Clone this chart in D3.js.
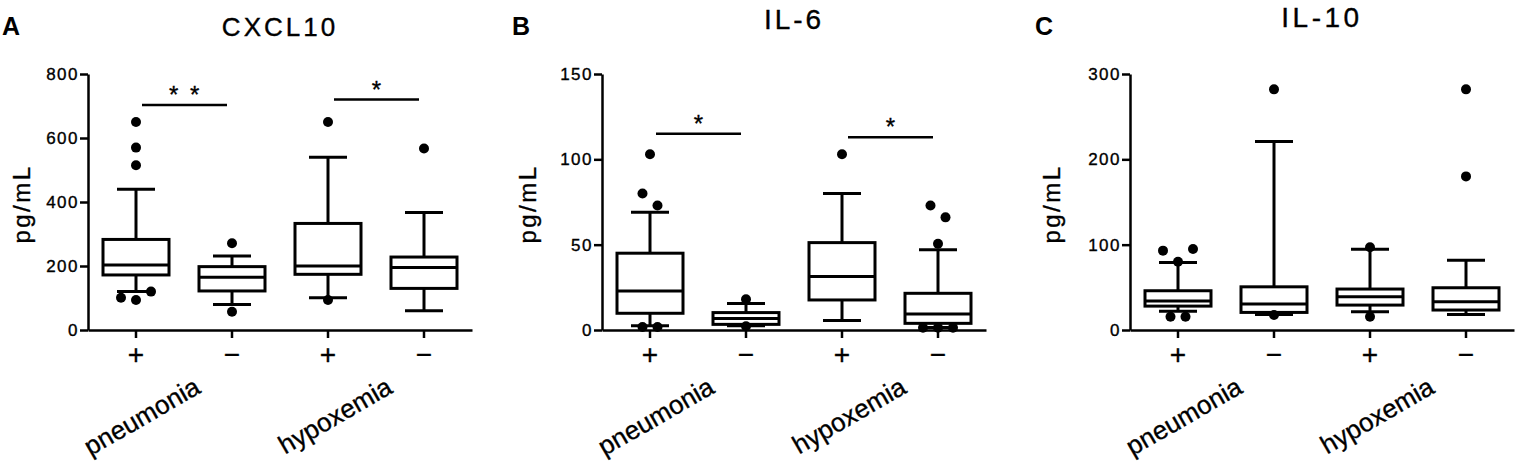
<!DOCTYPE html>
<html>
<head>
<meta charset="utf-8">
<script src="https://cdn.jsdelivr.net/npm/d3@7"></script>
<style>
  body { margin: 0; background: #fff; }
  svg { display: block; }
  text { font-family: "Liberation Sans", Arial, sans-serif; fill: #000; }
  .heavy { stroke: #000; stroke-width: 0.35px; }
</style>
</head>
<body>
<svg id="chart" width="1515" height="463"></svg>
<script>
'use strict';

// x groups and the two conditions
var groups = ['+', '\u2212', '+', '\u2212'];
var categories = ['pneumonia', 'hypoxemia'];

// each box: [low whisker, q1, median, q3, high whisker]
var cxcl10Boxes = [[120, 172, 203, 283, 440], [80, 122, 165, 198, 231], [101, 174, 200, 333, 540], [60, 130, 195, 228, 367]];
var cxcl10Outliers = [[650, 570, 515, 94, 101, 120], [271, 57], [650, 94], [567]];
var cxcl10Ticks = [0, 200, 400, 600, 800];
var cxcl10Sig = [[0, 1, 703, '* *'], [2, 3, 720, '*']];

var il6Boxes = [[2.5, 9.8, 22.9, 45, 69], [2.5, 3.3, 6.8, 10.2, 15.6], [5.5, 17.6, 31.3, 51.2, 80], [1.5, 3.9, 9.4, 21.5, 47]];
var il6Outliers = [[103, 73, 80, 1.8, 1.8], [18, 2.2], [103], [66, 73, 50.5, 1.3, 1.3, 1.3]];
var il6Ticks = [0, 50, 100, 150];
var il6Sig = [[0, 1, 115, '*'], [2, 3, 113, '*']];

var il10Boxes = [[22, 28, 33.9, 46, 79], [18.3, 20.6, 30.4, 50.6, 221], [21.4, 29.2, 39, 48, 94.7], [18.3, 23.4, 33, 49.5, 81.8]];
var il10Outliers = [[80, 93, 95, 15.5, 15.5], [282, 17.5], [97, 15.5], [282, 180]];
var il10Ticks = [0, 100, 200, 300];
var il10Sig = [];

var panels = [
  { letter: 'A', letterX: 2, title: 'CXCL10', titleY: 36, titleSize: 26, titleSpacing: 3, labelX: 30, left: 88,
    boxes: cxcl10Boxes, outliers: cxcl10Outliers, ticks: cxcl10Ticks, sig: cxcl10Sig },
  { letter: 'B', letterX: 512, title: 'IL-6', titleY: 29, titleSize: 28, titleSpacing: 3, labelX: 536, left: 602,
    boxes: il6Boxes, outliers: il6Outliers, ticks: il6Ticks, sig: il6Sig },
  { letter: 'C', letterX: 1035, title: 'IL-10', titleY: 27, titleSize: 28, titleSpacing: 3.5, labelX: 1060, left: 1130,
    boxes: il10Boxes, outliers: il10Outliers, ticks: il10Ticks, sig: il10Sig }
];

var plotW = 384, plotTop = 74, plotBottom = 330;
var boxW = 66, capW = 38, dotR = 5, dotStep = 15;
var svg = d3.select('#chart');

// spread outliers that sit too close vertically, like prism does
function placeDots(values, y) {
  var sorted = values.slice().sort(function(a, b) { return a - b; });
  var clusters = [];
  sorted.forEach(function(v) {
    var last = clusters[clusters.length - 1];
    if (last && Math.abs(y(v) - y(last[last.length - 1])) < 14) last.push(v);
    else clusters.push([v]);
  });
  var out = [];
  clusters.forEach(function(c) {
    c.forEach(function(v, i) {
      var off;
      if (c.length % 2) off = i === 0 ? 0 : (i % 2 ? -1 : 1) * Math.ceil(i / 2) * dotStep;
      else off = (i % 2 ? -1 : 1) * (Math.floor(i / 2) + 0.5) * dotStep;
      out.push({ v: v, dx: off });
    });
  });
  return out;
}

panels.forEach(function(p) {
  var g = svg.append('g');
  var x = d3.scaleBand().domain(d3.range(groups.length)).range([p.left, p.left + plotW]);
  var y = d3.scaleLinear().domain([0, d3.max(p.ticks)]).range([plotBottom, plotTop]);
  var cx = function(i) { return x(i) + x.bandwidth() / 2; };

  g.append('text').text(p.letter)
    .attr('x', p.letterX).attr('y', 35)
    .attr('font-size', 25).attr('font-weight', 'bold');

  g.append('text').text(p.title)
    .attr('class', 'heavy')
    .attr('x', p.left + plotW / 2).attr('y', p.titleY)
    .attr('text-anchor', 'middle')
    .attr('font-size', p.titleSize).attr('letter-spacing', p.titleSpacing);

  g.append('text').text('pg/mL')
    .attr('class', 'heavy')
    .attr('transform', 'translate(' + p.labelX + ',204) rotate(-90)')
    .attr('text-anchor', 'middle')
    .attr('font-size', 24).attr('letter-spacing', 2.5);

  var yAxis = g.append('g')
    .attr('transform', 'translate(' + p.left + ',0)')
    .call(d3.axisLeft(y).tickValues(p.ticks).tickSize(8).tickPadding(1).tickSizeOuter(0));
  yAxis.selectAll('text').attr('class', 'heavy').attr('font-size', 17).attr('letter-spacing', 1.5)
    .attr('font-family', null);

  var xAxis = g.append('g')
    .attr('transform', 'translate(0,' + plotBottom + ')')
    .call(d3.axisBottom(x).tickFormat(function(i) { return groups[i]; }).tickSize(8).tickSizeOuter(0));
  xAxis.selectAll('text').attr('class', 'heavy').attr('font-size', 28).attr('dy', null).attr('y', 34)
    .attr('font-family', null);

  [yAxis, xAxis].forEach(function(a) {
    a.selectAll('path, line').attr('stroke', '#000').attr('stroke-width', 2.5);
  });

  categories.forEach(function(c, k) {
    var mid = (cx(2 * k) + cx(2 * k + 1)) / 2;
    g.append('text').text(c)
      .attr('class', 'heavy')
      .attr('transform', 'translate(' + (mid + 18) + ',392) rotate(-30)')
      .attr('text-anchor', 'end')
      .attr('font-size', 26);
  });

  var box = g.selectAll('g.box').data(p.boxes).enter().append('g')
    .attr('class', 'box')
    .attr('fill', 'none').attr('stroke', '#000').attr('stroke-width', 3);

  box.append('line')
    .attr('x1', function(d, i) { return cx(i); }).attr('x2', function(d, i) { return cx(i); })
    .attr('y1', function(d) { return y(d[0]); }).attr('y2', function(d) { return y(d[4]); });
  [0, 4].forEach(function(k) {
    box.append('line')
      .attr('x1', function(d, i) { return cx(i) - capW / 2; })
      .attr('x2', function(d, i) { return cx(i) + capW / 2; })
      .attr('y1', function(d) { return y(d[k]); }).attr('y2', function(d) { return y(d[k]); });
  });
  box.append('rect')
    .attr('x', function(d, i) { return cx(i) - boxW / 2; })
    .attr('width', boxW)
    .attr('y', function(d) { return y(d[3]); })
    .attr('height', function(d) { return y(d[1]) - y(d[3]); })
    .attr('fill', '#fff');
  box.append('line')
    .attr('x1', function(d, i) { return cx(i) - boxW / 2; })
    .attr('x2', function(d, i) { return cx(i) + boxW / 2; })
    .attr('y1', function(d) { return y(d[2]); }).attr('y2', function(d) { return y(d[2]); });

  p.outliers.forEach(function(vals, i) {
    g.selectAll(null).data(placeDots(vals, y)).enter().append('circle')
      .attr('cx', function(d) { return cx(i) + d.dx; })
      .attr('cy', function(d) { return y(d.v); })
      .attr('r', dotR).attr('fill', '#000');
  });

  p.sig.forEach(function(s) {
    var x1 = cx(s[0]) + 6, x2 = cx(s[1]) - 5;
    var wide = s[3].length > 1;
    g.append('line')
      .attr('x1', x1).attr('x2', x2)
      .attr('y1', y(s[2])).attr('y2', y(s[2]))
      .attr('stroke', '#000').attr('stroke-width', 2.5);
    g.append('text').text(s[3])
      .attr('class', 'heavy')
      .attr('x', (x1 + x2) / 2 + (wide ? 1 : 0)).attr('y', y(s[2]) - 2)
      .attr('text-anchor', 'middle')
      .attr('font-size', 24).attr('letter-spacing', wide ? 2.5 : 0);
  });
});
</script>
</body>
</html>
